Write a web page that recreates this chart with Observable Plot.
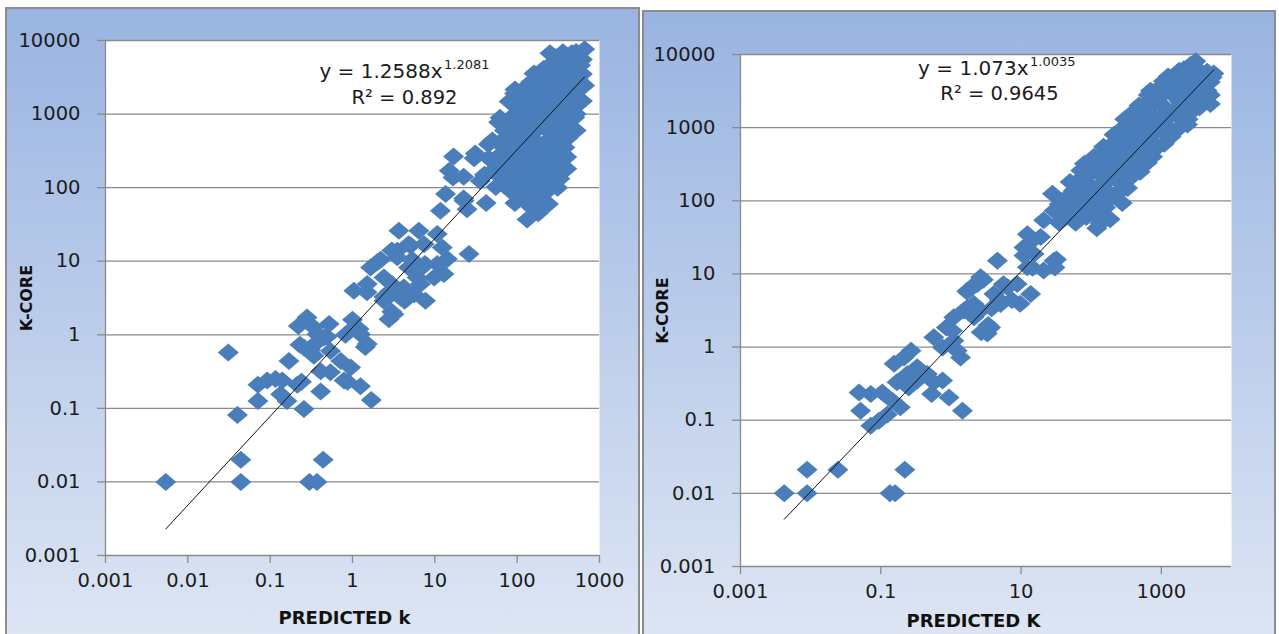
<!DOCTYPE html>
<html><head><meta charset="utf-8">
<script src="https://cdn.jsdelivr.net/npm/d3@7"></script>
<script src="https://cdn.jsdelivr.net/npm/@observablehq/plot@0.6"></script>
<style>
html,body{margin:0;padding:0;background:#fff;}
#root{position:relative;width:1279px;height:634px;overflow:hidden;}
.panel{position:absolute;box-sizing:border-box;border:2px solid #8c8c8c;background:linear-gradient(to bottom,#99b4e1,#dfe6f4);}
.chart{position:absolute;top:0;}
</style></head><body>
<div id="root">
<div class="panel" style="left:5px;top:7px;width:635px;height:640px"></div>
<div class="panel" style="left:642px;top:10px;width:634px;height:640px"></div>
<div id="c1" class="chart" style="left:0px"></div>
<div id="c2" class="chart" style="left:640px"></div>
</div>
<script>
// ---------- data ----------
const yTicks = [0.001, 0.01, 0.1, 1, 10, 100, 1000, 10000];
const yTickLabels = ["0.001", "0.01", "0.1", "1", "10", "100", "1000", "10000"];
const leftXTicks = [0.001, 0.01, 0.1, 1, 10, 100, 1000];
const leftXTickLabels = ["0.001", "0.01", "0.1", "1", "10", "100", "1000"];
const rightXTicks = [0.001, 0.1, 10, 1000];
const rightXTickLabels = ["0.001", "0.1", "10", "1000"];

const leftTitleX = "PREDICTED k";
const rightTitleX = "PREDICTED K";
const titleY = "K-CORE";

const leftFit = [1.2588, 1.2081];
const leftFitText = ["y = 1.2588x", "1.2081", "R² = 0.892"];
const rightFit = [1.073, 1.0035];
const rightFitText = ["y = 1.073x", "1.0035", "R² = 0.9645"];

// [predicted k, k-core]
const leftPairs = [
[0.0054,0.01],[0.044,0.02],[0.044,0.01],[0.30,0.01],[0.37,0.01],[0.44,0.02],[0.040,0.081],[0.031,0.575],
[0.071,0.126],[0.071,0.21],[0.116,0.25],[0.14,0.24],[0.169,0.44],[0.16,0.126],[0.214,0.21],[0.257,0.098],
[0.28,1.72],[0.22,1.32],[0.34,1.26],[0.257,0.67],[0.37,0.79],[0.52,1.4],[0.45,0.92],[0.34,0.52],
[0.41,0.32],[0.54,0.31],[0.41,0.17],[0.72,0.44],[0.95,0.36],[0.79,0.24],[1.25,0.20],[1.69,0.13],
[0.134,0.156],[0.092,0.24],[1.0,1.6],[1.25,1.02],[1.51,0.75],[1.04,1.26],[0.37,1.02],[0.54,0.6],
[0.49,0.94],[0.23,0.73],[0.31,0.62],[0.24,0.23],[0.87,0.23],[1.2,1.2],[1.43,0.68],[0.82,1.0],
[1.04,3.97],[1.51,4.9],[2.0,9.7],[1.66,8.2],[2.41,6.0],[2.9,3.97],[3.84,3.22],[2.77,1.63],[3.18,1.9],
[3.66,26],[3.5,13.9],[5.1,16.3],[6.4,26],[7.4,17],[7.4,8.7],[6.1,6.0],[9.8,6.0],[4.2,4.4],[5.6,3.57],
[7.7,2.9],[12.9,6.7],[12.3,15.4],[14.2,10.7],[11.7,48.6],[13.5,82],[22.6,66.5],[26,12.5],[10.7,23.4],
[4.8,8.2],[2.41,2.9],[3.5,11.3],[4.8,17],[3.0,14],[2.2,10.5],[5.3,10.5],[7.6,9.2],[6.7,4.9],[3.0,4.9],
[2.4,3.3],[3.0,2.05],[4.3,2.9],[1.5,3.8],[10.7,9.2],
[15,170],[16.9,265],[22.4,71],[24.6,51],[22.4,141],[30,250],[42,61.6],[35.6,123],[50,170],[55,250],
[66.7,413],[59.6,776],[83,890],[105,1660],[148,2750],[209,4100],[295,5900],[460,6700],[660,7600],
[660,2450],[525,1300],[410,470],[330,132],[209,170],[148,54],[132,37],[186,54],[94,61.6],[83,90],
[117,102],[166,90],[234,90],[234,219],[148,219],[105,283],[117,537],[166,776],[234,605],[295,1300],
[234,2150],[166,1660],[132,1000],[94,537],[74,283],[83,170],[66.7,132],[55,102],[105,170],[263,363],
[367,283],[410,776],[460,1900],[330,2750],[410,4600],[590,4600],[117,2150],[209,1300],[148,413],
[186,283],[330,776],[83,413],[132,132],[186,132],[62,890],[44.7,390],[80,1480],[94,2150],[16.6,137],
[31,290],[50,436],[93,1900],[160,3550],[250,6700],[360,6900],
[100,1200],[100,600],[100,300],[130,1600],[130,700],[130,350],[170,2500],[170,1200],[170,600],[170,300],
[220,3500],[220,1700],[220,800],[220,400],[290,4500],[290,2000],[290,1000],[290,500],[290,200],
[380,5500],[380,3000],[380,1500],[380,700],[380,350],[500,6000],[500,3500],[500,2000],[500,900],
[60,400],[60,200],[70,600],[45,250],[40,150],[75,120],[250,130],[200,70],[450,1100],[550,3000],[320,3800],
[70,150],[70,300],[90,100],[90,200],[90,400],[90,800],[90,1400],[110,80],[110,130],[110,220],[110,400],
[110,900],[140,60],[140,100],[140,160],[140,250],[140,500],[140,1300],[140,2200],[180,45],[180,80],
[180,120],[180,200],[180,400],[180,900],[180,2000],[180,3000],[240,60],[240,110],[240,160],[240,300],
[240,450],[240,1000],[240,1600],[240,2800],[240,4500],[310,100],[310,160],[310,260],[310,400],[310,650],
[310,1600],[310,2400],[310,3300],[310,5000],[400,180],[400,260],[400,550],[400,900],[400,1200],
[400,2200],[400,3800],[400,5200],[520,600],[520,1000],[520,1600],[520,2600],[520,4000],[520,5000],
[520,7000],[620,1500],[620,3500],[620,5500]
];

const rightPairs = [
[0.0042,0.01],[0.0089,0.01],[0.0089,0.021],[0.0245,0.021],[0.135,0.01],[0.16,0.01],[0.22,0.021],
[1.46,0.135],[0.94,0.205],[0.0515,0.135],[0.049,0.24],[0.072,0.084],[0.094,0.098],[0.072,0.228],
[0.105,0.24],[0.146,0.185],[0.17,0.33],[0.25,0.28],[0.33,0.35],[0.46,0.43],[0.57,0.33],[0.76,0.35],
[0.53,0.228],[0.155,0.59],[0.214,0.72],[0.27,0.89],[0.33,0.53],[0.24,0.43],[0.57,1.36],[0.76,0.99],
[1.1,1.22],[1.23,0.89],[1.37,0.72],[1.05,1.67],[0.86,1.85],[1.53,3.15],[1.1,2.55],[2.13,3.89],
[2.38,7.3],[1.71,5.9],[2.65,9.0],[4.1,5.3],[3.68,1.85],[3.3,1.53],[5.1,3.89],[6.4,6.6],[8.8,7.3],
[12.3,12.3],[13.7,5.3],[4.6,15.2],[11,23],[12.3,35],[15.3,18.8],[21,54],[29.5,15.2],[29.5,73],
[19,32],[21,11.1],[0.124,0.12],[0.19,0.15],[2.13,2.55],[2.65,3.15],
[2.2,7.2],[2.9,8.3],[1.7,5.7],[1.7,3.4],[3.8,3.4],[4.9,4.4],[7.4,4.4],[9.7,3.9],[3.4,2.0],[2.7,1.6],
[5.6,7.2],[14.6,12.1],[13,26],[11,17.8],[30.4,12.2],[32,15.7],
[37,100],[55,136],[48,72],[73,72],[109,63],[134,49],[186,56],[277,93],[96,230],[142,330],[245,430],
[317,810],[540,1350],[800,2290],[1380,4250],[2090,6300],[3100,8100],[5300,4900],[4000,2290],
[2400,1550],[1380,930],[800,560],[480,330],[277,200],[215,120],[125,120],[163,178],[245,295],
[360,430],[620,720],[1070,1200],[1800,2290],[1070,2950],[1380,1550],[800,1200],[620,1350],[360,810],
[245,630],[186,330],[2700,3300],[3550,4250],[5600,5500],[2400,4250],[1600,2950],[4000,4900],
[540,490],[317,260],[160,81],[77,136],[96,93],[55,81],[120,42],[28,125],[71,260],[211,800],[560,2000],
[1070,4300],[630,330],[1370,750],[2360,1100],[5000,2100],
[40,60],[70,90],[70,200],[100,130],[100,250],[150,150],[150,300],[150,450],[220,200],[220,400],
[220,650],[330,150],[330,300],[330,600],[500,250],[500,500],[500,900],[500,1500],[750,400],[750,800],
[750,1300],[750,2000],[1100,600],[1100,1000],[1100,1900],[1100,3000],[1600,900],[1600,1500],
[1600,2600],[1600,4000],[2400,1300],[2400,2200],[2400,3300],[2400,5500],[3500,1900],[3500,3000],
[3500,6000],[4500,3200],[4500,5800],[2800,7000],
[35,50],[35,90],[45,70],[45,110],[60,50],[60,100],[60,160],[85,60],[85,110],[85,180],[120,70],[120,150],
[120,250],[170,100],[170,200],[170,380],[250,130],[250,250],[250,500],[250,900],[350,200],[350,380],
[350,700],[350,1300],[480,280],[480,600],[480,1100],[480,2000],[650,380],[650,900],[650,1600],
[650,2800],[900,550],[900,1300],[900,2300],[900,3400],[1250,750],[1250,1700],[1250,3300],[1250,5000],
[1800,1000],[1800,2000],[1800,3800],[1800,6000],[2600,1600],[2600,2800],[2600,4500],[2600,7200],
[3800,2400],[3800,3800],[3800,5500],[5000,2800],[5000,4200],
[110,400],[150,550],[300,1300],[420,1700],[700,3200],[50,180],[80,320]
];

// ---------- helpers ----------
const diamond = {
  draw(ctx, size) {
    const r = Math.sqrt(size / Math.PI);
    const w = r * 1.05, h = r * 0.9;
    ctx.moveTo(0, -h); ctx.lineTo(w, 0); ctx.lineTo(0, h); ctx.lineTo(-w, 0); ctx.closePath();
  }
};
const grey = "#8a8a8a";
const ink = "#1c1c1c";
const font = "DejaVu Sans";

function trend(pairs, [a, b]) {
  const [x0, x1] = d3.extent(pairs, d => d[0]);
  return [x0, x1].map(x => ({x, y: a * Math.pow(x, b)}));
}

function panel(cfg) {
  const yLab = new Map(yTicks.map((v, i) => [v, yTickLabels[i]]));
  const xLab = new Map(cfg.xTicks.map((v, i) => [v, cfg.xLabels[i]]));
  return Plot.plot({
    width: cfg.width, height: 634,
    marginLeft: cfg.ml, marginRight: cfg.mr, marginTop: cfg.mt, marginBottom: cfg.mb,
    x: {type: "log", domain: cfg.xDomain, axis: null},
    y: {type: "log", domain: [0.001, 10000], axis: null},
    style: {background: "transparent", fontFamily: font, color: ink, overflow: "visible"},
    marks: [
      Plot.frame({fill: "white", stroke: null}),
      Plot.gridY(yTicks.slice(1), {stroke: grey, strokeOpacity: 1, strokeWidth: 1.3}),
      Plot.ruleX([cfg.xDomain[0]], {stroke: grey, strokeWidth: 1.3}),
      Plot.ruleY([0.001], {stroke: grey, strokeWidth: 1.3}),
      Plot.axisY(yTicks, {anchor: "left", label: null, tickSize: 8, tickPadding: 17, tickFormat: d => yLab.get(d),
        stroke: grey, strokeWidth: 1.3, fill: ink, fontSize: 19.5}),
      Plot.axisX(cfg.xTicks, {anchor: "bottom", label: null, tickSize: 8, tickPadding: 10, tickFormat: d => xLab.get(d),
        stroke: grey, strokeWidth: 1.3, fill: ink, fontSize: 19.5}),
      Plot.dot(cfg.pairs, {x: d => d[0], y: d => d[1], r: 10, symbol: diamond, fill: "#4a7ebb", stroke: null}),
      Plot.line(trend(cfg.pairs, cfg.fit), {x: "x", y: "y", stroke: "#111", strokeWidth: 1}),
      Plot.text([cfg.fitText[0]], {frameAnchor: "top-left", dx: cfg.eq[0], dy: cfg.eq[1], textAnchor: "end", lineAnchor: "middle", fontSize: 20, fill: ink}),
      Plot.text([cfg.fitText[1]], {frameAnchor: "top-left", dx: cfg.eq[0] + 1.5, dy: cfg.eq[1] - 7, textAnchor: "start", lineAnchor: "middle", fontSize: 13, fill: ink}),
      Plot.text([cfg.fitText[2]], {frameAnchor: "top-left", dx: cfg.eq[2], dy: cfg.eq[3], textAnchor: "middle", lineAnchor: "middle", fontSize: 19.5, fill: ink}),
      Plot.text([titleY], {frameAnchor: "left", dx: cfg.yt, rotate: -90, textAnchor: "middle", lineAnchor: "middle", fontSize: 16, fontWeight: "bold", fill: "#111"}),
      Plot.text([cfg.xTitle], {frameAnchor: "bottom", dx: cfg.xt[0], dy: cfg.xt[1], textAnchor: "middle", lineAnchor: "middle", fontSize: 18, fontWeight: "bold", fill: "#111"})
    ]
  });
}

document.getElementById("c1").appendChild(panel({
  width: 640, ml: 105, mr: 41, mt: 40, mb: 79,
  xDomain: [0.001, 1000], xTicks: leftXTicks, xLabels: leftXTickLabels,
  pairs: leftPairs, fit: leftFit, fitText: leftFitText,
  eq: [337, 31.5, 299, 57.5], yt: -78.5, xTitle: leftTitleX, xt: [-8, 63]
}));
document.getElementById("c2").appendChild(panel({
  width: 639, ml: 100, mr: 48, mt: 54, mb: 68,
  xDomain: [0.001, 10000], xTicks: rightXTicks, xLabels: rightXTickLabels,
  pairs: rightPairs, fit: rightFit, fitText: rightFitText,
  eq: [288, 14.5, 259, 39.5], yt: -78, xTitle: rightTitleX, xt: [-12.5, 55]
}));
</script>
</body></html>
